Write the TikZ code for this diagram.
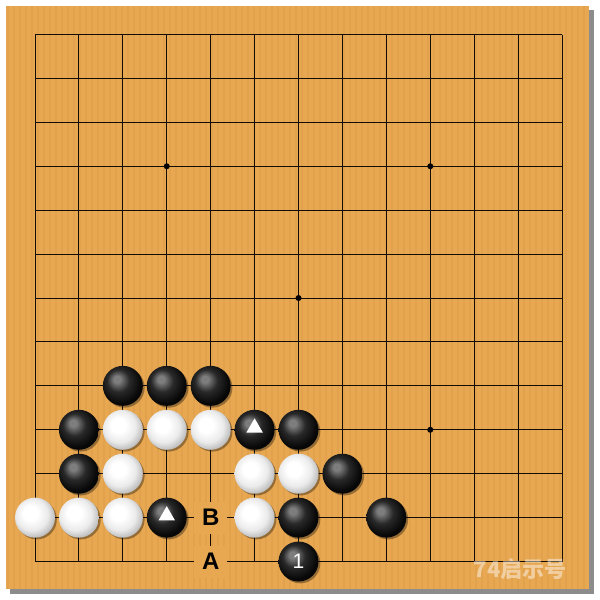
\documentclass[tikz,border=0pt]{standalone}
\usepackage{fontspec}
\setsansfont{Liberation Sans}
\newfontfamily\cjk{Noto Sans CJK SC}
\usetikzlibrary{shapes.geometric,shadows}
\definecolor{board}{HTML}{E8A852}
\definecolor{grain}{HTML}{B5762A}
\definecolor{boardedge}{HTML}{8C8C8C}
\pgfdeclareradialshading{whitestone}{\pgfpoint{-7bp}{7bp}}{color(0bp)=(white); color(9bp)=(white); color(20bp)=(black!8); color(30bp)=(black!30); color(50bp)=(black!30)}
\pgfdeclareradialshading{blackstone}{\pgfpoint{-8bp}{9bp}}{color(0bp)=(black!52); color(4bp)=(black!50); color(14bp)=(black!84); color(26bp)=(black!97); color(50bp)=(black)}
\tikzset{
  stonebase/.style={circle, minimum size=40pt, inner sep=0pt,
    drop shadow={shadow xshift=1.8pt, shadow yshift=-1.8pt, opacity=.35, fill=black}},
  bstone/.style={stonebase, shading=blackstone},
  wstone/.style={stonebase, shading=whitestone},
  trimark/.style={regular polygon, regular polygon sides=3, fill=white, inner sep=0pt, minimum size=19pt},
  lbl/.style={fill=board, inner sep=0pt, minimum width=33pt, minimum height=32pt,
    font=\sffamily\bfseries\fontsize{24}{24}\selectfont},
  num/.style={text=white, font=\sffamily\fontsize{21}{21}\selectfont},
  gridline/.style={line width=0.95pt, black!90!brown},
  star/.style={circle, fill=black, inner sep=0pt, minimum size=6pt}
}
\begin{document}
\begin{tikzpicture}[x=1pt,y=-1pt]
\useasboundingbox (0,0) rectangle (600,600);
\fill[white] (0,0) rectangle (600,600);
\fill[boardedge] (10,10) rectangle (594,594);
\fill[board] (6,6) rectangle (589,589);
\foreach \k in {0,...,96}{
  \pgfmathsetmacro{\xx}{8+\k*6}
  \draw[grain, opacity=.10, line width=1.2pt] (\xx,6) -- (\xx,589);
}
\begin{scope}[shift={(35,34.5)}, x=43.92pt, y=-43.92pt]
  \foreach \i in {0,...,12}{
    \draw[gridline] (\i,0) -- (\i,12);
    \draw[gridline] (0,\i) -- (12,\i);
  }
  \foreach \p/\q in {3/3,9/3,6/6,9/9}{
    \node[star] (st-\p-\q) at (\p,\q) {};
  }
  % black stones
  \foreach \p/\q in {2/8,3/8,4/8,1/9,5/9,6/9,1/10,7/10,3/11,6/11,8/11,6/12}{
    \node[bstone] (b-\p-\q) at (\p,\q) {};
  }
  % white stones
  \foreach \p/\q in {2/9,3/9,4/9,2/10,5/10,6/10,0/11,1/11,2/11,5/11}{
    \node[wstone] (w-\p-\q) at (\p,\q) {};
  }
  \node[trimark] (m1) at ([yshift=2pt]b-5-9.center) {};
  \node[trimark] (m2) at ([yshift=2pt]b-3-11.center) {};
  \node[num] (n1) at (b-6-12.center) {1};
  \node[lbl] (lb) at (4,11) {B};
  \node[lbl] (la) at (4,12) {A};
\end{scope}
\node[text=white, opacity=.45, font=\cjk\bfseries\fontsize{22}{22}\selectfont] (wm) at (520,569) {74启示号};
\end{tikzpicture}
\end{document}
